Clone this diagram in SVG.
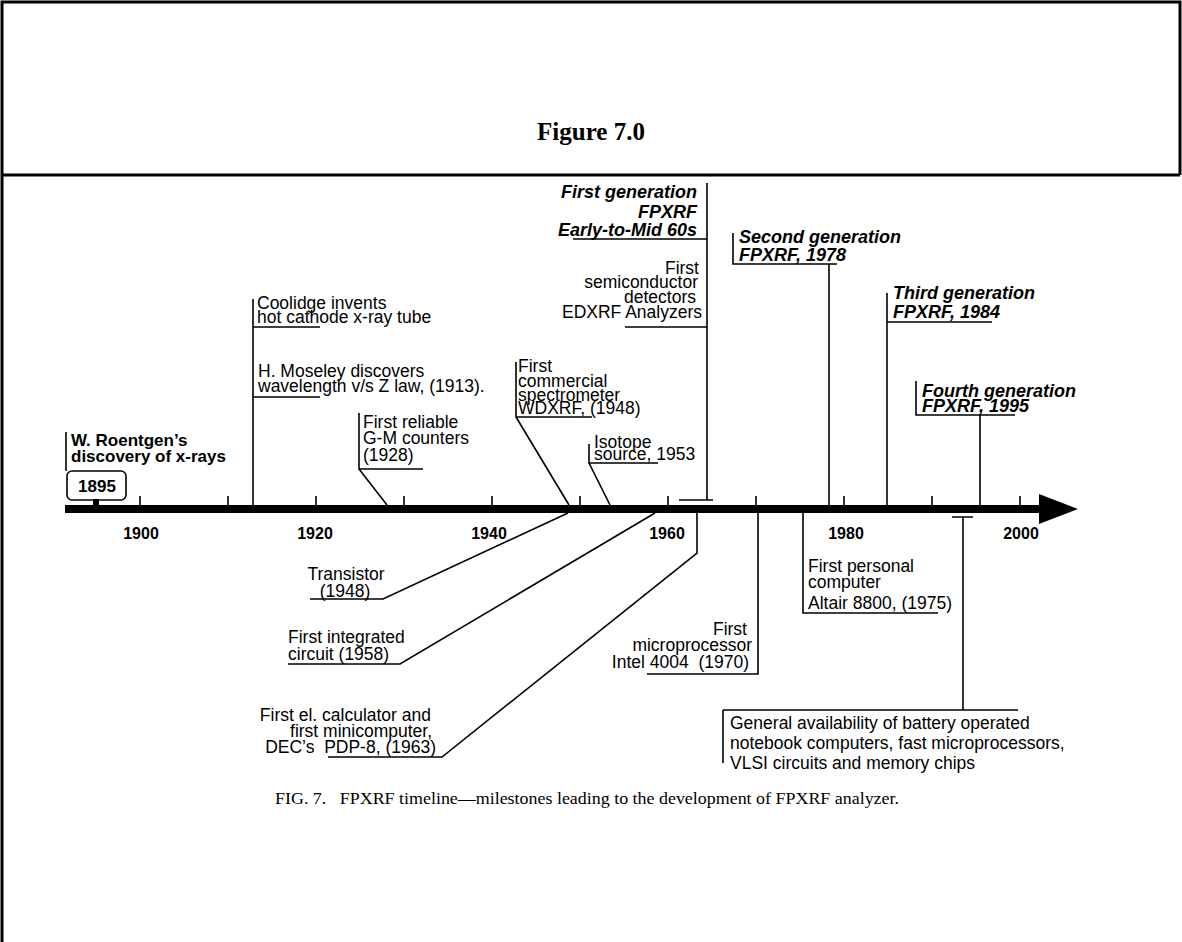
<svg xmlns="http://www.w3.org/2000/svg" width="1182" height="942" viewBox="0 0 1182 942">
<style>
.t{font-family:"Liberation Sans",Arial,sans-serif;font-size:17.5px;fill:#000}
.b{font-family:"Liberation Sans",Arial,sans-serif;font-size:17px;font-weight:bold;fill:#000}
.bi{font-family:"Liberation Sans",Arial,sans-serif;font-size:18px;font-weight:bold;font-style:italic;fill:#000}
.yr{font-family:"Liberation Sans",Arial,sans-serif;font-size:16px;font-weight:bold;fill:#000;text-anchor:middle}
.ln{stroke:#000;stroke-width:1.6;fill:none}
.r{text-anchor:end}
.m{text-anchor:middle}
</style>
<rect x="0" y="0" width="1182" height="942" fill="#fff"/>
<g id="frame">
<path d="M2,942 V2 H1180 V175" fill="none" stroke="#000" stroke-width="3"/>
<line x1="2" y1="175" x2="1180" y2="175" stroke="#000" stroke-width="3"/>
<text x="591" y="140" text-anchor="middle" font-family="Liberation Serif,Times New Roman,serif" font-size="25" font-weight="bold">Figure 7.0</text>
</g>
<g id="axis">
<rect x="65" y="505" width="975" height="8" fill="#000"/>
<polygon points="1039,494 1078,509 1039,524" fill="#000"/>
<path class="ln" d="M140,505V496M228,505V496M316,505V496M404,505V496M492,505V496M580,505V496M668,505V496M756,505V496M844,505V496M932,505V496M1020,505V496"/>
<text class="yr" x="141" y="539">1900</text>
<text class="yr" x="315" y="539">1920</text>
<text class="yr" x="489" y="539">1940</text>
<text class="yr" x="667" y="539">1960</text>
<text class="yr" x="846" y="539">1980</text>
<text class="yr" x="1021" y="539">2000</text>
</g>
<g id="roentgen">
<text class="b" x="71" y="446">W. Roentgen’s</text>
<text class="b" x="71" y="462">discovery of x-rays</text>
<rect x="67" y="471" width="59" height="29" rx="5" fill="#fff" stroke="#000" stroke-width="1.6"/>
<text class="b" x="97" y="492" text-anchor="middle" font-size="16">1895</text>
<rect x="93" y="499" width="6" height="7" fill="#000"/>
</g>
<g id="coolidge">
<text class="t" x="257" y="309">Coolidge invents</text>
<text class="t" x="257" y="323">hot cathode x-ray tube</text>
</g>
<g id="moseley">
<text class="t" x="258" y="377">H. Moseley discovers</text>
<text class="t" x="258" y="392">wavelength v/s Z law, (1913).</text>
</g>
<g id="gm-counters">
<text class="t" x="363" y="428">First reliable</text>
<text class="t" x="363" y="444">G-M counters</text>
<text class="t" x="363" y="461">(1928)</text>
</g>
<g id="wdxrf">
<text class="t" x="518" y="372">First</text>
<text class="t" x="518" y="387">commercial</text>
<text class="t" x="518" y="401">spectrometer</text>
<text class="t" x="518" y="414">WDXRF, (1948)</text>
</g>
<g id="isotope">
<text class="t" x="594" y="448">Isotope</text>
<text class="t" x="594" y="460">source, 1953</text>
</g>
<g id="first-gen">
<text class="bi r" x="697" y="198">First generation</text>
<text class="bi r" x="697" y="218">FPXRF</text>
<text class="bi r" x="697" y="236">Early-to-Mid 60s</text>
</g>
<g id="edxrf">
<text class="t r" x="699" y="274">First</text>
<text class="t r" x="698" y="288">semiconductor</text>
<text class="t r" x="696" y="303">detectors</text>
<text class="t r" x="702" y="318">EDXRF Analyzers</text>
</g>
<g id="second-gen">
<text class="bi" x="739" y="243">Second generation</text>
<text class="bi" x="739" y="261">FPXRF, 1978</text>
</g>
<g id="third-gen">
<text class="bi" x="893" y="299">Third generation</text>
<text class="bi" x="893" y="318">FPXRF, 1984</text>
</g>
<g id="fourth-gen">
<text class="bi" x="922" y="397">Fourth generation</text>
<text class="bi" x="922" y="412">FPXRF, 1995</text>
</g>
<g id="transistor">
<text class="t m" x="346" y="580">Transistor</text>
<text class="t m" x="345" y="597">(1948)</text>
</g>
<g id="integrated-circuit">
<text class="t" x="288" y="643">First integrated</text>
<text class="t" x="288" y="660">circuit (1958)</text>
</g>
<g id="calculator">
<text class="t r" x="431" y="721">First el. calculator and</text>
<text class="t r" x="432" y="737">first minicomputer,</text>
<text class="t r" x="436" y="753" xml:space="preserve">DEC’s  PDP-8, (1963)</text>
</g>
<g id="microprocessor">
<text class="t r" x="747" y="635">First</text>
<text class="t r" x="752" y="651">microprocessor</text>
<text class="t r" x="749" y="668" xml:space="preserve">Intel 4004  (1970)</text>
</g>
<g id="personal-computer">
<text class="t" x="808" y="572">First personal</text>
<text class="t" x="808" y="588">computer</text>
<text class="t" x="808" y="609">Altair 8800, (1975)</text>
</g>
<g id="notebooks">
<text class="t" x="730" y="729" font-size="18">General availability of battery operated</text>
<text class="t" x="730" y="749" font-size="18">notebook computers, fast microprocessors,</text>
<text class="t" x="730" y="769" font-size="18">VLSI circuits and memory chips</text>
</g>
<g id="connectors" class="ln">
<path d="M66,432V471"/>
<path d="M253,299V505M253,327H320M253,397H320"/>
<path d="M359,413V469H423M359,469L387,505"/>
<path d="M516,362V417H592M516,417L569,505"/>
<path d="M589,444V463H658M589,463L610,505"/>
<path d="M707,183V500M679,500H713M573,239H707M625,327H707"/>
<path d="M733,233V264H837M829,264V505"/>
<path d="M887,293V505M887,322H992"/>
<path d="M916,381V415H1015M980,415V505"/>
<path d="M568,513L383,599H310"/>
<path d="M655,513L400,664H288"/>
<path d="M697,513V553L442,757H328"/>
<path d="M758,513V674H647"/>
<path d="M803,513V613H938"/>
<path d="M952,517H973M963,517V710M723,710H1018M723,710V763"/>
</g>
<g id="caption">
<text x="275" y="804" font-family="Liberation Serif,Times New Roman,serif" font-size="16" textLength="624" lengthAdjust="spacingAndGlyphs" xml:space="preserve">FIG. 7.   FPXRF timeline—milestones leading to the development of FPXRF analyzer.</text>
</g>
</svg>
